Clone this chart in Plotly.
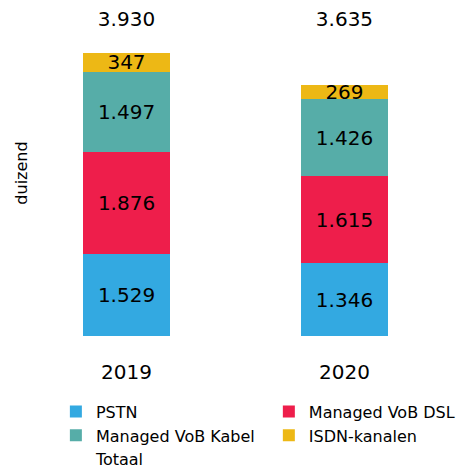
import plotly.graph_objects as go

years = ["2019", "2020"]
pstn = [1529, 1346]
vob_dsl = [1876, 1615]
vob_kabel = [1497, 1426]
isdn = [347, 269]
totaal = [3930, 3635]

colors = {
    "PSTN": "#33A9E1",
    "Managed VoB DSL": "#EE1E4B",
    "Managed VoB Kabel": "#56ADA8",
    "ISDN-kanalen": "#EDB815",
}

# (name, values, legend column)
series = [
    ("PSTN", pstn, "legend"),
    ("Managed VoB DSL", vob_dsl, "legend2"),
    ("Managed VoB Kabel", vob_kabel, "legend"),
    ("ISDN-kanalen", isdn, "legend2"),
]

FONT = "DejaVu Sans"
fig = go.Figure()
for name, vals, lg in series:
    fig.add_trace(go.Bar(
        x=years, y=vals, name=name, legend=lg,
        marker=dict(color=colors[name], line=dict(width=0)),
        width=0.4,
        texttemplate="%{y:,}",
        textposition="inside",
        insidetextanchor="middle",
        textfont=dict(family=FONT, size=20, color="black"),
        constraintext="none",
        hoverinfo="skip",
    ))

stack_max = max(a + b + c + d for a, b, c, d in zip(pstn, vob_dsl, vob_kabel, isdn))
label_y = [stack_max * 1.113] * len(years)
fig.add_trace(go.Scatter(
    x=years, y=label_y, name="Totaal", mode="text",
    text=[f"{v:,}".replace(",", ".") for v in totaal],
    textposition="middle center",
    textfont=dict(family=FONT, size=20, color="black"),
    hoverinfo="skip", showlegend=False,
))
# legend entry for "Totaal" (no visible symbol): zero-height transparent bar
fig.add_trace(go.Bar(
    x=years, y=[0] * len(years), name="Totaal", legend="legend",
    marker=dict(color="rgba(0,0,0,0)", line=dict(width=0)),
    width=0.4, textposition="none", hoverinfo="skip",
))

leg_common = dict(
    orientation="h", xref="container", yref="container",
    xanchor="left", yanchor="top", traceorder="normal", itemwidth=30,
    entrywidth=170, entrywidthmode="pixels",
    font=dict(family=FONT, size=16, color="black"),
    tracegroupgap=0, bgcolor="rgba(0,0,0,0)",
)

fig.update_layout(
    width=458, height=476,
    barmode="stack",
    separators=",.",
    plot_bgcolor="white", paper_bgcolor="white",
    margin=dict(l=50, r=10, t=10, b=140),
    font=dict(family=FONT, color="black"),
    uniformtext=dict(minsize=20, mode="show"),
    xaxis=dict(
        range=[-0.351, 1.475],
        showline=False, showgrid=False, zeroline=False,
        ticks="outside", ticklen=18, tickcolor="rgba(0,0,0,0)",
        tickfont=dict(family=FONT, size=20, color="black"),
    ),
    yaxis=dict(
        range=[0, 6046],
        showticklabels=False, showgrid=False, zeroline=False, showline=False,
        title=dict(text="duizend", font=dict(family=FONT, size=16, color="black"), standoff=17),
    ),
    legend=dict(x=0.122, y=0.171, **leg_common),
    legend2=dict(x=0.587, y=0.171, **leg_common),
)

fig.write_html("out.html", config={"displayModeBar": False},
               post_script="document.body.style.margin='0';")
